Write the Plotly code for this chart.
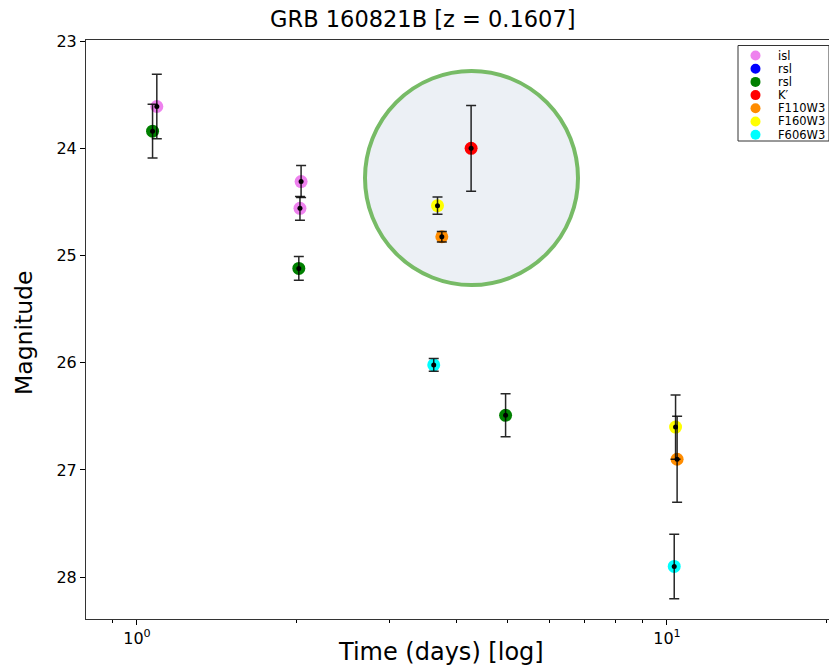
import plotly.graph_objects as go

# ---- data (time in days, magnitude, 1-sigma error) ----
isl_t = [1.09, 2.04, 2.03]
isl_mag = [23.61, 24.31, 24.56]
isl_err = [0.30, 0.15, 0.11]

rsl_blue_t = []
rsl_blue_mag = []
rsl_blue_err = []

rsl_t = [1.07, 2.02, 4.96]
rsl_mag = [23.84, 25.12, 26.49]
rsl_err = [0.25, 0.11, 0.20]

kp_t = [4.27]
kp_mag = [24.00]
kp_err = [0.40]

f110_t = [3.76, 10.45]
f110_mag = [24.825, 26.90]
f110_err = [0.05, 0.40]

f160_t = [3.69, 10.38]
f160_mag = [24.535, 26.60]
f160_err = [0.08, 0.30]

f606_t = [3.63, 10.32]
f606_mag = [26.02, 27.90]
f606_err = [0.06, 0.30]

series_names = ["isl", "rsl", "rsl", "K′", "F110W3", "F160W3", "F606W3"]
series_colors = ["#EE82EE", "#0000FF", "#008000", "#FF0000", "#FF8C00", "#FFFF00", "#00FFFF"]
series_t = [isl_t, rsl_blue_t, rsl_t, kp_t, f110_t, f160_t, f606_t]
series_mag = [isl_mag, rsl_blue_mag, rsl_mag, kp_mag, f110_mag, f160_mag, f606_mag]
series_err = [isl_err, rsl_blue_err, rsl_err, kp_err, f110_err, f160_err, f606_err]

x_tickvals = [1, 10]
x_ticktext = ["10<sup>0</sup>", "10<sup>1</sup>"]
x_minor = [0.8, 0.9, 2, 3, 4, 5, 6, 7, 8, 9, 20]
y_tickvals = [23, 24, 25, 26, 27, 28]

FONT = "DejaVu Sans"
W, H = 829, 667
ML, MR, MT, MB = 86, 0, 40, 48
PW, PH = W - ML - MR, H - MT - MB


def px_x(px):
    return (px - ML) / PW


def px_y(py):
    return 1 - (py - MT) / PH


fig = go.Figure()

# coloured markers
for name, col, t, m, e in zip(series_names, series_colors, series_t, series_mag, series_err):
    if len(t) == 0:
        continue
    fig.add_trace(go.Scatter(x=t, y=m, mode="markers", name=name, showlegend=False,
                             marker=dict(color=col, size=13, line=dict(width=0))))

# black centre dots with error bars
for name, col, t, m, e in zip(series_names, series_colors, series_t, series_mag, series_err):
    if len(t) == 0:
        continue
    fig.add_trace(go.Scatter(x=t, y=m, mode="markers", showlegend=False, hoverinfo="skip",
                             marker=dict(color="black", size=5),
                             error_y=dict(type="data", array=e, visible=True,
                                          color="rgba(0,0,0,0.85)", thickness=1.5, width=5)))

# highlight circle (in plot-domain coordinates)
fig.add_shape(type="circle", xref="x domain", yref="y domain",
              x0=px_x(365), x1=px_x(578), y0=px_y(285), y1=px_y(71),
              line=dict(color="#77BB66", width=4), fillcolor="#ECF0F5", layer="below")

# legend (matplotlib-style compact box)
LEG_L, LEG_R, LEG_T, LEG_B = 738, 829, 45.5, 141
fig.add_shape(type="rect", xref="paper", yref="paper",
              x0=px_x(LEG_L), x1=px_x(LEG_R), y0=px_y(LEG_B), y1=px_y(LEG_T),
              line=dict(color="#333", width=1), fillcolor="white", layer="above")
ROW0, ROWSTEP = 55.5, 13.2
for i, (name, col) in enumerate(zip(series_names, series_colors)):
    yy = px_y(ROW0 + i * ROWSTEP)
    fig.add_shape(type="circle", xref="paper", yref="paper",
                  xsizemode="pixel", ysizemode="pixel",
                  xanchor=px_x(755.5), yanchor=yy, x0=-5, x1=5, y0=-5, y1=5,
                  line=dict(width=0), fillcolor=col, layer="above")
    fig.add_annotation(text=name, xref="paper", yref="paper", x=px_x(776), y=yy,
                       xanchor="left", yanchor="middle", showarrow=False,
                       font=dict(size=11.5, family=FONT, color="black"))

fig.update_layout(
    width=W, height=H,
    margin=dict(l=ML, r=MR, t=MT, b=MB),
    paper_bgcolor="white", plot_bgcolor="white",
    font=dict(family=FONT, color="black"),
    title=dict(text="GRB 160821B [z = 0.1607]", x=0.510, xref="container", xanchor="center",
               y=1 - 19 / 667, yref="container", yanchor="middle",
               font=dict(size=22.5, family=FONT, color="black")),
    showlegend=False,
)

fig.update_xaxes(type="log", range=[-0.0962, 1.3057],
                 tickvals=x_tickvals, ticktext=x_ticktext,
                 ticks="outside", ticklen=5, tickwidth=1, tickcolor="black",
                 showline=True, linecolor="#333", linewidth=1, mirror=True,
                 showgrid=False, zeroline=False,
                 tickfont=dict(size=16, family=FONT),
                 minor=dict(tickvals=x_minor, ticks="outside", ticklen=3, tickcolor="black",
                            showgrid=False))
fig.update_yaxes(range=[28.39, 22.99], tickvals=y_tickvals,
                 ticks="outside", ticklen=5, tickwidth=1, tickcolor="black",
                 showline=True, linecolor="#333", linewidth=1, mirror=False,
                 showgrid=False, zeroline=False,
                 tickfont=dict(size=16, family=FONT))

fig.add_annotation(text="Magnitude", xref="paper", yref="paper",
                   x=px_x(24), y=px_y(333), textangle=-90,
                   xanchor="center", yanchor="middle", showarrow=False,
                   font=dict(size=23.5, family=FONT, color="black"))
fig.add_annotation(text="Time\u00a0(days)\u00a0[log]", xref="paper", yref="paper",
                   x=px_x(441), y=px_y(652),
                   xanchor="center", yanchor="middle", showarrow=False,
                   font=dict(size=24, family=FONT, color="black"))

fig.write_html("out.html")
